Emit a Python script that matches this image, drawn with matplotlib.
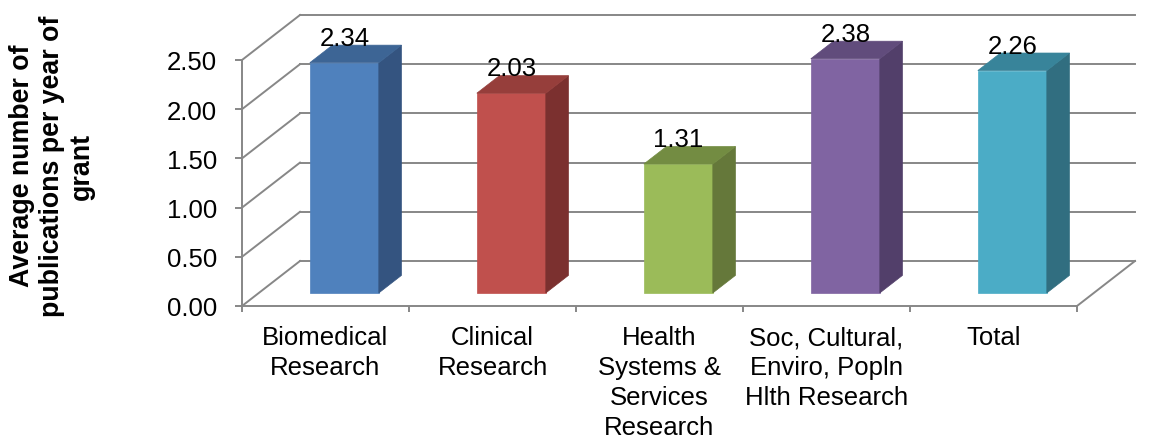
import matplotlib
matplotlib.use("Agg")
import matplotlib.pyplot as plt
from matplotlib.patches import Polygon
import numpy as np

plt.rcParams['font.family'] = ['Liberation Sans', 'DejaVu Sans']

categories = ["Biomedical\nResearch", "Clinical\nResearch", "Health\nSystems &\nServices\nResearch",
              "Soc, Cultural,\nEnviro, Popln\nHlth Research", "Total"]
values = [2.34, 2.03, 1.31, 2.38, 2.26]
yticks = [0.0, 0.5, 1.0, 1.5, 2.0, 2.5]
ylabel = "Average number of\npublications per year of\ngrant"

front_colors = ["#4F81BD", "#C0504D", "#9BBB59", "#8064A2", "#4BACC6"]
top_colors = ["#3D6595", "#963E3B", "#738C42", "#614C7C", "#38849A"]
side_colors = ["#345480", "#7B302F", "#65783A", "#523F6A", "#316E80"]

W, H = 1151, 439
fig = plt.figure(figsize=(W / 100, H / 100), dpi=100)
ax = fig.add_axes([242 / W, 1 - 307 / H, (1077 - 242) / W, (307 - 61) / H])
n = len(values)
ax.set_xlim(0, n)
ax.set_ylim(0, 2.5)

# depth offsets (data units)
DX = 58 / 167.0
DY = 45 / 98.4
grid_c = "#878787"
lw = 1.4

for v in yticks:
    ax.plot([0, DX], [v, v + DY], color=grid_c, lw=lw, clip_on=False, zorder=1)
    ax.plot([DX, n + DX], [v + DY, v + DY], color=grid_c, lw=lw, clip_on=False, zorder=1)
# right floor edge
ax.plot([n, n + DX], [0, DY], color=grid_c, lw=lw, clip_on=False, zorder=1)

# bars
fd = 0.29     # front depth fraction
bd = 0.39     # bar depth fraction
bw = 69 / 167.0
for i, v in enumerate(values):
    cx = i + 0.5 + fd * DX + 0.012
    x0, x1 = cx - bw / 2, cx + bw / 2
    y0 = fd * DY
    y1 = y0 + v
    ox, oy = bd * DX, bd * DY
    front = Polygon([(x0, y0), (x1, y0), (x1, y1), (x0, y1)], closed=True,
                    facecolor=front_colors[i], edgecolor=front_colors[i], lw=0.5,
                    clip_on=False, zorder=3)
    side = Polygon([(x1, y0), (x1 + ox, y0 + oy), (x1 + ox, y1 + oy), (x1, y1)], closed=True,
                   facecolor=side_colors[i], edgecolor=side_colors[i], lw=0.5,
                   clip_on=False, zorder=3)
    top = Polygon([(x0, y1), (x1, y1), (x1 + ox, y1 + oy), (x0 + ox, y1 + oy)], closed=True,
                  facecolor=top_colors[i], edgecolor=top_colors[i], lw=0.5,
                  clip_on=False, zorder=3)
    for p in (front, side, top):
        ax.add_patch(p)
    ax.annotate(f"{v:.2f}", xy=(cx, y1), xytext=(0, 25), textcoords="offset pixels",
                ha="center", va="center", fontsize=18.5, color="black", zorder=5,
                annotation_clip=False)

# axes styling
for s in ("top", "right"):
    ax.spines[s].set_visible(False)
for s in ("left", "bottom"):
    ax.spines[s].set_color(grid_c)
    ax.spines[s].set_linewidth(lw)
    ax.spines[s].set_zorder(2)

ax.set_yticks(yticks)
ax.set_yticklabels([f"{t:.2f}" for t in yticks], fontsize=18.5)
ax.tick_params(axis="y", length=5, width=lw, color=grid_c, pad=13)

ax.set_xticks(np.arange(n + 1))
ax.set_xticklabels([])
ax.tick_params(axis="x", which="major", length=4.3, width=lw, color=grid_c)
ax.set_xticks(np.arange(n) + 0.5, minor=True)
ax.set_xticklabels(categories, minor=True, fontsize=18.5, linespacing=1.3)
ax.tick_params(axis="x", which="minor", length=0, pad=14)
ax.patch.set_visible(False)

fig.text(52 / W, 1 - 166 / H, ylabel, rotation=90, ha="center", va="center",
         fontsize=19.3, fontweight="bold", multialignment="center", linespacing=1.2)

fig.savefig("out.png", dpi=100)
